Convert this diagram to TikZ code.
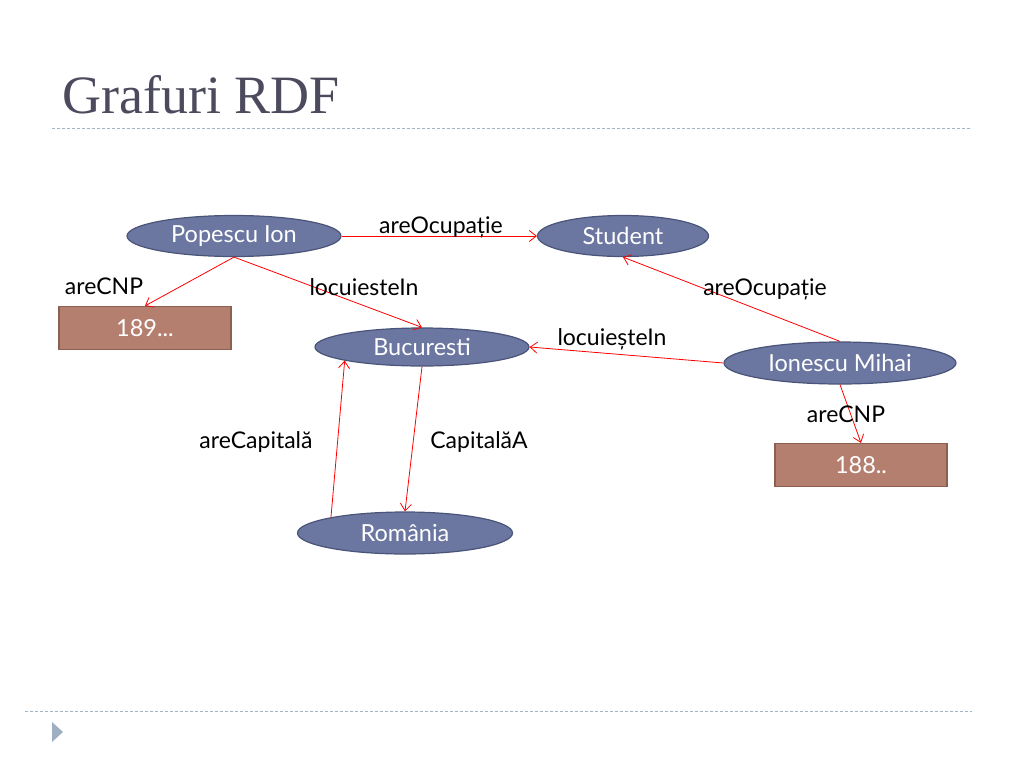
\documentclass[tikz,border=0pt]{standalone}
\usepackage{fontspec}
\setmainfont{Lato}
\newfontfamily\titlefont{Liberation Serif}
\usetikzlibrary{shapes.geometric,arrows.meta}
\definecolor{entityfill}{RGB}{107,119,161}
\definecolor{entityline}{RGB}{74,84,120}
\definecolor{literalfill}{RGB}{181,127,111}
\definecolor{literalline}{RGB}{140,95,80}
\definecolor{titlegray}{RGB}{75,75,93}
\definecolor{ruleblue}{RGB}{160,180,200}
\begin{document}
\begin{tikzpicture}[x=1pt,y=-1pt,
    entity/.style={ellipse,draw=entityline,line width=1.2pt,fill=entityfill,
      text=white,minimum height=41pt,inner sep=0pt,font=\fontsize{23.5}{26}\selectfont},
    literal/.style={rectangle,draw=literalline,line width=1.2pt,fill=literalfill,
      text=white,minimum width=172pt,minimum height=43pt,inner sep=0pt,
      font=\fontsize{23.5}{26}\selectfont},
    prop/.style={anchor=base,inner sep=0pt,font=\fontsize{23}{26}\selectfont},
    link/.style={draw=red,line width=0.8pt,-{Straight Barb[length=7pt,width=11pt]}}]
  \useasboundingbox (0,0) rectangle (1024,768);
  \node[anchor=base west,inner sep=0pt,text=titlegray,font=\titlefont\fontsize{54}{58}\selectfont]
    (title) at (62,113) {Grafuri RDF};
  \draw[ruleblue,line width=1pt,dash pattern=on 3pt off 2pt] (52,128) -- (972,128);
  \draw[ruleblue,line width=1pt,dash pattern=on 3pt off 2pt] (25,711) -- (972,711);
  \fill[ruleblue!90!gray] (52,722) -- (63,732) -- (52,742) -- cycle;
  % resources
  \node[entity,minimum width=214pt] (popescu) at (234,236) {Popescu Ion};
  \node[entity,minimum width=171pt] (student) at (623,236) {Student};
  \node[entity,minimum width=214pt,minimum height=38pt] (bucuresti) at (422,347) {Bucuresti};
  \node[entity,minimum width=232pt,minimum height=42pt] (ionescu) at (840,363) {Ionescu Mihai};
  \node[entity,minimum width=215pt,minimum height=42pt] (romania) at (405,533) {România};
  % literals
  \node[literal] (cnp1) at (145,328) {189...};
  \node[literal] (cnp2) at (861,465) {188..};
  % properties
  \draw[link] (popescu.east) -- (student.west);
  \draw[link] (popescu.south) -- (cnp1.north);
  \draw[link] (popescu.south) -- (bucuresti.north);
  \draw[link] (ionescu.north) -- (student.south);
  \draw[link] (ionescu.west) -- (bucuresti.east);
  \draw[link] (ionescu.south) -- (cnp2.north);
  \draw[link] (romania.168) -- (bucuresti.190);
  \draw[link] (bucuresti.south) -- (romania.north);
  \node[prop] (occ1) at (441,233) {areOcupație};
  \node[prop] (cnplabel1) at (104,294) {areCNP};
  \node[prop] (lives1) at (364,295) {locuiesteIn};
  \node[prop] (occ2) at (765,295) {areOcupație};
  \node[prop] (lives2) at (612,345) {locuieșteIn};
  \node[prop] (cnplabel2) at (846,422) {areCNP};
  \node[prop] (hascap) at (256,448) {areCapitală};
  \node[prop] (capof) at (479,448) {CapitalăA};
\end{tikzpicture}
\end{document}
